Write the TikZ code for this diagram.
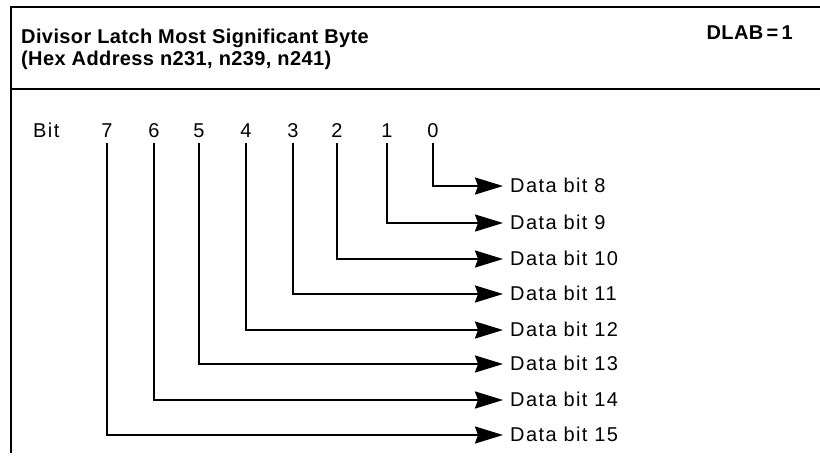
\documentclass[tikz,border=0pt]{standalone}
\usepackage{fontspec}
\setmainfont{Liberation Sans}
\newfontfamily\lblfont[LetterSpace=7]{Liberation Sans}
\newfontfamily\ttlfont[LetterSpace=2]{Liberation Sans}
\usetikzlibrary{arrows.meta}
\begin{document}
\begin{tikzpicture}[x=1pt,y=-1pt,
  framerule/.style={line width=2.6pt},
  conn/.style={line width=2.3pt,-{Stealth[length=28pt,width=17pt,inset=3pt]}},
  ttl/.style={inner sep=0pt,anchor=base west,font=\ttlfont\fontsize{20}{24}\selectfont\bfseries},
  lbl/.style={inner sep=0pt,font=\lblfont\fontsize{20}{24}\selectfont},
  digitlbl/.style={lbl,anchor=base},
  outlbl/.style={lbl,anchor=west}]
\useasboundingbox (0,0) rectangle (820,456);
\fill[white] (0,0) rectangle (820,456);
% frame
\coordinate (tl) at (11,7);
\coordinate (tr) at (820,7);
\coordinate (ml) at (11,89);
\coordinate (mr) at (820,89);
\coordinate (bl) at (11,453);
\draw[framerule] (tr) -- (tl) -- (bl);
\draw[framerule] (ml) -- (mr);
% header
\node[ttl] (t1) at (21,43) {Divisor Latch Most Significant Byte};
\node[ttl] (t2) at (21,65) {(Hex Address n231, n239, n241)};
\node[ttl,anchor=base east] (dlab) at (793,39) {DLAB\,=\,1};
% bit row
\node[lbl,anchor=base west] (bit) at (33,137) {Bit};
\node[digitlbl] (b7) at (107,137) {7};
\node[digitlbl] (b6) at (154,137) {6};
\node[digitlbl] (b5) at (199,137) {5};
\node[digitlbl] (b4) at (246,137) {4};
\node[digitlbl] (b3) at (293,137) {3};
\node[digitlbl] (b2) at (337,137) {2};
\node[digitlbl] (b1) at (387,137) {1};
\node[digitlbl] (b0) at (433,137) {0};
% outputs
\node[outlbl] (d8)  at (510,185) {Data bit 8};
\node[outlbl] (d9)  at (510,222) {Data bit 9};
\node[outlbl] (d10) at (510,258) {Data bit 10};
\node[outlbl] (d11) at (510,293) {Data bit 11};
\node[outlbl] (d12) at (510,329) {Data bit 12};
\node[outlbl] (d13) at (510,363) {Data bit 13};
\node[outlbl] (d14) at (510,399) {Data bit 14};
\node[outlbl] (d15) at (510,434) {Data bit 15};
% connectors
\foreach \b/\d in {0/8,1/9,2/10,3/11,4/12,5/13,6/14,7/15}
  \draw[conn] ([yshift=-6pt]b\b.south) |- ([xshift=-7pt,yshift=-1pt]d\d.west);
\end{tikzpicture}
\end{document}
